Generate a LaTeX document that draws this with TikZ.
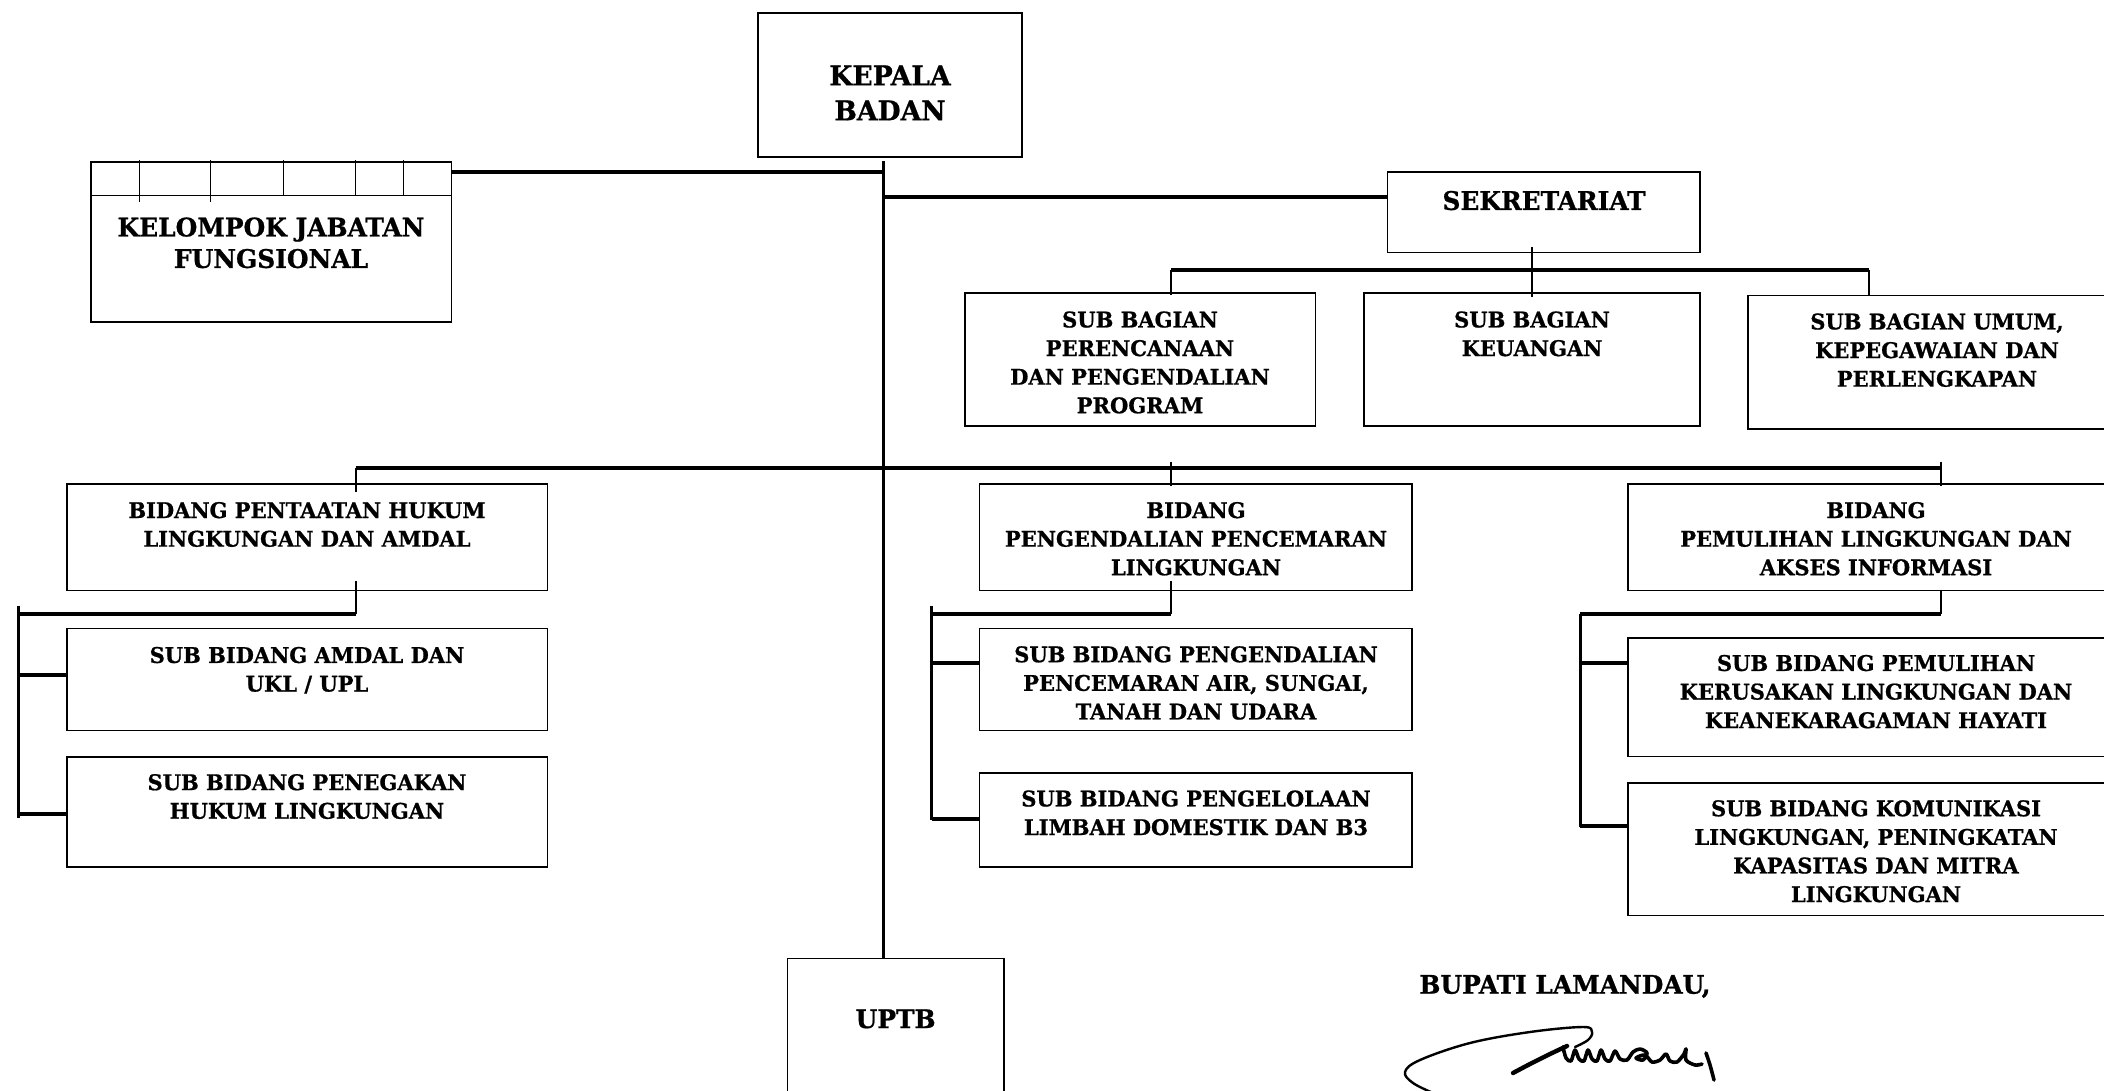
\documentclass[tikz,border=0pt]{standalone}
\usepackage{fontspec}
\newfontfamily\orgfont{DejaVuSerifCondensed-Bold.ttf}[FakeStretch=1.08,FakeBold=0.8]
\usetikzlibrary{fit}

\begin{document}
\begin{tikzpicture}[x=0.5pt,y=-0.5pt,
  orgbox/.style={draw,line width=0.8pt,inner sep=0pt},
  txtbase/.style={align=center,inner sep=0pt,anchor=north},
  small/.style={txtbase,font=\orgfont\fontsize{10.8}{14.3}\selectfont},
  mid/.style={txtbase,font=\orgfont\fontsize{12.8}{15.75}\selectfont},
  big/.style={txtbase,font=\orgfont\fontsize{13.7}{17.5}\selectfont},
  bus/.style={line width=2pt},
  spine/.style={line width=1.35pt},
  tick/.style={line width=1pt},
  sig/.style={line width=1.2pt,line cap=round,line join=round}]

\useasboundingbox (0,0) rectangle (2104,1091);
\clip (0,0) rectangle (2104,1091);

% ---------- boxes ----------
\node[orgbox,fit={(758,13) (1022,157)}] (kepala) {};
\node[orgbox,fit={(91,162) (451.5,322)}] (kelompok) {};
\node[orgbox,fit={(1387.5,172) (1700,252.7)}] (sek) {};
\node[orgbox,fit={(965,293) (1315.5,426)}] (sbPer) {};
\node[orgbox,fit={(1364,293) (1700,426)}] (sbKeu) {};
\node[orgbox,fit={(1748,295.5) (2126,429)}] (sbUmum) {};
\node[orgbox,fit={(67,484) (547.5,590.5)}] (bPen) {};
\node[orgbox,fit={(979.6,484) (1412,590.5)}] (bPeng) {};
\node[orgbox,fit={(1628,484) (2124,590.5)}] (bPem) {};
\node[orgbox,fit={(67,628.4) (547.5,730.6)}] (sAmdal) {};
\node[orgbox,fit={(67,756.7) (547.5,867.2)}] (sTegak) {};
\node[orgbox,fit={(979.6,628.4) (1412,730.6)}] (sPeng) {};
\node[orgbox,fit={(979.6,772.7) (1412,867.2)}] (sLimbah) {};
\node[orgbox,fit={(1628,638) (2124,756.3)}] (sPulih) {};
\node[orgbox,fit={(1628,782.7) (2124,915.5)}] (sKom) {};
\node[orgbox,fit={(787.6,958.6) (1003.7,1110)}] (uptb) {};

% header strip of the functional group box
\coordinate (kh) at (91,195.5);
\draw[line width=0.8pt] (kh) -- (kh -| kelompok.east);
\foreach \tx/\ty in {139.3/201.7, 210.7/201.7, 283.3/195, 355.3/195, 403.3/195}
  \draw[line width=0.7pt] (\tx,160) -- (\tx,\ty);

% ---------- labels ----------
\node[big] (tKepala) at (890,65) {KEPALA\\BADAN};
\node[mid] (tKel) at (271,217) {KELOMPOK JABATAN\\FUNGSIONAL};
\node[mid] (tSek) at (1544,190.5) {SEKRETARIAT};
\node[small] (tPer) at (1140,311) {SUB BAGIAN\\PERENCANAAN\\DAN PENGENDALIAN\\PROGRAM};
\node[small] (tKeu) at (1532,311) {SUB BAGIAN\\KEUANGAN};
\node[small] (tUmum) at (1937,313) {SUB BAGIAN UMUM,\\KEPEGAWAIAN DAN\\PERLENGKAPAN};
\node[small] (tBPen) at (307,501.6) {BIDANG PENTAATAN HUKUM\\LINGKUNGAN DAN AMDAL};
\node[small] (tBPeng) at (1196,501.6) {BIDANG\\PENGENDALIAN PENCEMARAN\\LINGKUNGAN};
\node[small] (tBPem) at (1876,501.6) {BIDANG\\PEMULIHAN LINGKUNGAN DAN\\AKSES INFORMASI};
\node[small] (tAmdal) at (307,646.5) {SUB BIDANG AMDAL DAN\\UKL / UPL};
\node[small] (tTegak) at (307,773.7) {SUB BIDANG PENEGAKAN\\HUKUM LINGKUNGAN};
\node[small] (tSPeng) at (1196,645.8) {SUB BIDANG PENGENDALIAN\\PENCEMARAN AIR, SUNGAI,\\TANAH DAN UDARA};
\node[small] (tLimbah) at (1196,790) {SUB BIDANG PENGELOLAAN\\LIMBAH DOMESTIK DAN B3};
\node[small] (tPulih) at (1876,654.5) {SUB BIDANG PEMULIHAN\\KERUSAKAN LINGKUNGAN DAN\\KEANEKARAGAMAN HAYATI};
\node[small] (tKom) at (1876,799.8) {SUB BIDANG KOMUNIKASI\\LINGKUNGAN, PENINGKATAN\\KAPASITAS DAN MITRA\\LINGKUNGAN};
\node[mid] (tUptb) at (895.6,1009) {UPTB};
\node[mid,anchor=north west] (tBup) at (1419,974.6) {BUPATI LAMANDAU,};

% ---------- junction points ----------
\coordinate (sp) at (883.5,161);        % top of the main spine
\coordinate (kj) at (451.5,172.5);      % functional group joint
\coordinate (sj) at (1387.5,197.5);     % secretariat joint
\coordinate (sd) at (1531.7,247);       % secretariat drop
\coordinate (sbL) at (1171.4,270);      % sub-section bus
\coordinate (sbR) at (1868.8,270);
\coordinate (bL) at (355.7,467.5);      % division bus
\coordinate (bR) at (1941,467.5);
\coordinate (lT) at (355.7,581);        % left division subgroup
\coordinate (lV) at (18.8,613.5);
\coordinate (mT) at (1171.4,581);       % middle division subgroup
\coordinate (mV) at (931.5,613.5);
\coordinate (rT) at (1941,589.5);       % right division subgroup
\coordinate (rV) at (1580,613.5);

% ---------- connectors ----------
\draw[spine] (sp) -- (sp |- uptb.north);
\draw[bus] (kj) -- (kj -| sp);
\draw[bus] (sj -| sp) -- (sj);

\draw[tick] (sd) -- (sd |- sbKeu.north) -- ++(0,5);
\draw[bus] (sbL) -- (sbR);
\draw[tick] (sbL) -- (sbL |- sbPer.north) -- ++(0,3);
\draw[tick] (sbR) -- (sbR |- sbUmum.north);

\draw[bus] (bL) -- (bR);
\draw[tick] (bL) -- (bL |- bPen.north) -- ++(0,9);
\draw[tick] (bL -| sbL) ++(0,-6) -- (sbL |- bPeng.north) -- ++(0,3);
\draw[tick] (bR) ++(0,-6) -- (bR |- bPem.north) -- ++(0,3);

% left subgroup
\draw[tick] (lT) -- (lT |- lV);
\draw[bus] (lV) -- (lV -| lT);
\draw[line width=1.5pt] (lV) ++(0,-8) -- (18.8,818);
\draw[bus] (18.8,674.6) -- (sAmdal.west |- 0,674.6);
\draw[bus] (18.8,813.7) -- (sTegak.west |- 0,813.7);

% middle subgroup
\draw[tick] (mT) -- (mT |- mV);
\draw[bus] (mV) -- (mV -| mT);
\draw[line width=1.5pt] (mV) ++(0,-8) -- (931.5,819.6);
\draw[bus] (931.5,662.8) -- (sPeng.west |- 0,662.8);
\draw[bus] (931.5,819) -- (sLimbah.west |- 0,819);

% right subgroup
\draw[tick] (rT) -- (rT |- rV);
\draw[bus] (rV) -- (rV -| rT);
\draw[line width=1.5pt] (rV) -- (1580,826.5);
\draw[bus] (1580,662.5) -- (sPulih.west |- 0,662.5);
\draw[bus] (1580,826) -- (sKom.west |- 0,826);

% ---------- signature ----------
\draw[sig] plot[smooth,tension=0.6] coordinates {(1433,1093) (1413,1083) (1405,1072)
  (1420,1060) (1470,1043) (1530,1032) (1583,1027) (1592,1032) (1588,1040) (1575,1047)};
\draw[sig,line width=2.2pt] plot[smooth,tension=0.5] coordinates {(1513,1073) (1530,1064)
  (1550,1054) (1567,1046)};
\draw[sig,line width=1.8pt] plot[smooth,tension=0.5] coordinates {(1563,1047)
  (1566,1058) (1571,1061) (1575,1050) (1579,1059) (1584,1061) (1588,1050)
  (1592,1059) (1597,1061) (1601,1050) (1605,1059) (1610,1061) (1615,1051)
  (1620,1059) (1627,1060) (1633,1052) (1640,1049) (1647,1053) (1643,1060)
  (1636,1058) (1645,1055) (1652,1062) (1660,1060) (1666,1054) (1670,1061)
  (1677,1062) (1684,1054) (1686,1049) (1686,1060) (1695,1065) (1702,1064)};
\draw[sig,line width=1.8pt] plot[smooth,tension=0.5] coordinates {(1706,1053)
  (1710,1065) (1714,1080)};
\end{tikzpicture}
\end{document}
